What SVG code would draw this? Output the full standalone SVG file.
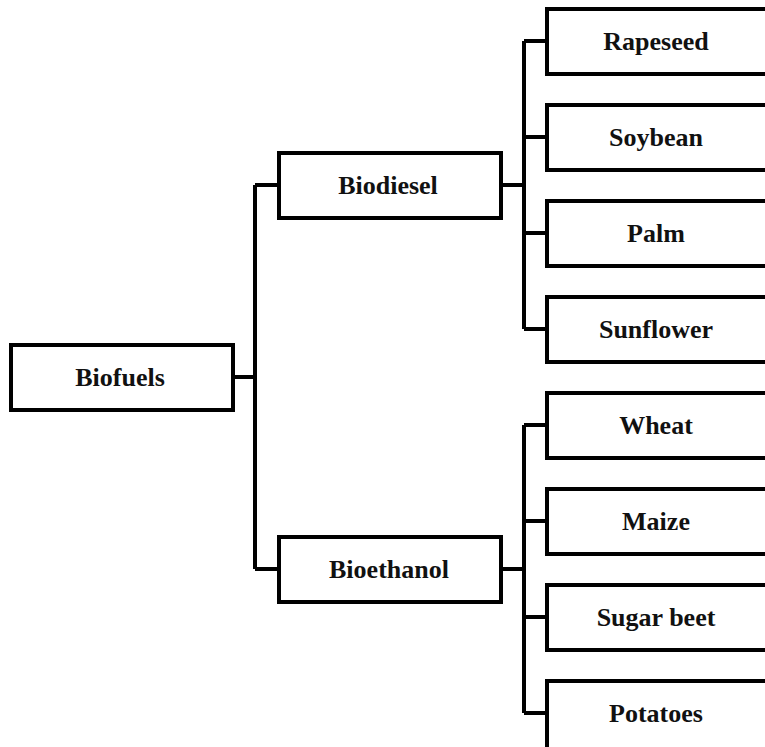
<svg xmlns="http://www.w3.org/2000/svg" width="765" height="747" viewBox="0 0 765 747">
<style>
rect{fill:#fff;stroke:#000;stroke-width:4}
.c path{fill:none;stroke:#000;stroke-width:4;stroke-linejoin:miter}
text{font-family:"Liberation Serif","Times New Roman",serif;font-weight:bold;font-size:26px;fill:#111;text-anchor:middle}
</style>
<rect x="0" y="0" width="765" height="747" style="stroke:none"/>
<g class="c">
<path d="M233 377H255M255 185V569M255 185H277M255 569H277"/>
<path d="M501 185H524M524 41V329M524 41H547M524 137H547M524 233H547M524 329H547"/>
<path d="M501 569H524M524 425V713M524 425H547M524 521H547M524 617H547M524 713H547"/>
</g>
<g id="biofuels"><rect x="11" y="345" width="222" height="65"/><text x="120" y="386">Biofuels</text></g>
<g id="biodiesel"><rect x="279" y="153" width="222" height="65"/><text x="388" y="194">Biodiesel</text></g>
<g id="bioethanol"><rect x="279" y="537" width="222" height="65"/><text x="389" y="578">Bioethanol</text></g>
<g id="rapeseed"><rect x="547" y="9" width="230" height="65"/><text x="656" y="50">Rapeseed</text></g>
<g id="soybean"><rect x="547" y="105" width="230" height="65"/><text x="656" y="146">Soybean</text></g>
<g id="palm"><rect x="547" y="201" width="230" height="65"/><text x="656" y="242">Palm</text></g>
<g id="sunflower"><rect x="547" y="297" width="230" height="65"/><text x="656" y="338">Sunflower</text></g>
<g id="wheat"><rect x="547" y="393" width="230" height="65"/><text x="656" y="434">Wheat</text></g>
<g id="maize"><rect x="547" y="489" width="230" height="65"/><text x="656" y="530">Maize</text></g>
<g id="sugarbeet"><rect x="547" y="585" width="230" height="65"/><text x="656" y="626">Sugar beet</text></g>
<g id="potatoes"><rect x="547" y="681" width="230" height="70"/><text x="656" y="722">Potatoes</text></g>
</svg>
